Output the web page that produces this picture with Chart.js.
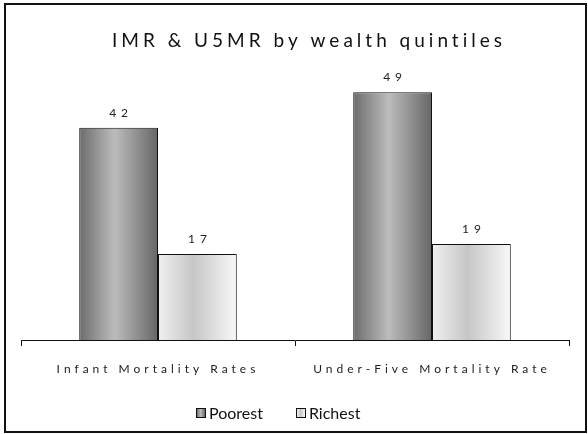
<!DOCTYPE html>
<html>
<head>
<meta charset="utf-8">
<script src="https://cdn.jsdelivr.net/npm/chart.js@4"></script>
<style>
    body { margin: 0; background: #fff; }
    #wrap { position: relative; width: 588px; height: 434px; }
    #frame {
        position: absolute; left: 4px; top: 3px; width: 583px; height: 430px;
        box-sizing: border-box; border: 2px solid #111; pointer-events: none;
    }
    #legend {
        position: absolute; left: 196px; top: 403px;
        font-family: Lato, sans-serif; font-size: 16px; color: #111;
        display: flex; align-items: center;
    }
    .item { display: flex; align-items: center; margin-right: 33px; }
    .box {
        width: 10px; height: 10px; box-sizing: border-box;
        border: 1.5px solid #111; margin-right: 3px;
    }
</style>
</head>
<body>
<div id="wrap">
    <canvas id="chart" width="588" height="434"></canvas>
    <div id="frame"></div>
    <div id="legend"></div>
</div>
<script>
// datos
const titulo = "IMR & U5MR by wealth quintiles";
const categorias = ["Infant Mortality Rates", "Under-Five Mortality Rate"];
const poorest = [42, 49];
const richest = [17, 19];
const series = ["Poorest", "Richest"];

// degradados de las barras (borde izq / centro / borde der)
const colores = [
    ["#6c6c6c", "#bcbcbc", "#666666"],
    ["#f0f0f0", "#c6c6c6", "#f8f8f8"]
];

const ANCHO_CAT = 0.575;

function degradado(ctx) {
    const chart = ctx.chart;
    const ds = ctx.datasetIndex;
    const xs = chart.scales.x;
    if (!chart.chartArea || !xs) return colores[ds][1];
    const centro = xs.getPixelForValue(ctx.dataIndex);
    const w = (xs.width / categorias.length) * ANCHO_CAT / 2;
    const x0 = ds === 0 ? centro - w : centro;
    const g = chart.ctx.createLinearGradient(x0, 0, x0 + w, 0);
    g.addColorStop(0, colores[ds][0]);
    g.addColorStop(0.45, colores[ds][1]);
    g.addColorStop(1, colores[ds][2]);
    return g;
}

// espaciado de letras para titulo, etiquetas y valores
const espaciado = {
    id: "espaciado",
    beforeDraw(chart) {
        chart.ctx.letterSpacing = "4px";
    },
    afterDatasetsDraw(chart) {
        const c = chart.ctx;
        c.save();
        c.letterSpacing = "5px";
        c.font = "12px Lato";
        c.fillStyle = "#222";
        c.textAlign = "center";
        c.textBaseline = "middle";
        chart.data.datasets.forEach((d, i) => {
            chart.getDatasetMeta(i).data.forEach((el, j) => {
                c.fillText(String(d.data[j]), el.x + 2.5, el.y - 15);
            });
        });
        c.restore();
    },
    afterDraw(chart) {
        const c = chart.ctx;
        // titulo (desplazado como en el original)
        c.save();
        c.letterSpacing = "4px";
        c.font = "19px Lato";
        c.fillStyle = "#111";
        c.textAlign = "left";
        c.textBaseline = "middle";
        c.fillText(titulo, 112, 40.5);
        c.restore();
        c.letterSpacing = "0px";
    }
};

const chart = new Chart(document.getElementById("chart"), {
    type: "bar",
    data: {
        labels: categorias,
        datasets: [
            { label: series[0], data: poorest, backgroundColor: degradado, borderColor: "#111", borderWidth: 1 },
            { label: series[1], data: richest, backgroundColor: degradado, borderColor: "#111", borderWidth: 1 }
        ]
    },
    options: {
        responsive: false,
        animation: false,
        layout: { padding: { left: 21, right: 19, top: 62, bottom: 0 } },
        datasets: {
            bar: {
                categoryPercentage: ANCHO_CAT,
                barPercentage: 1
            }
        },
        scales: {
            x: {
                grid: {
                    drawOnChartArea: false,
                    drawTicks: true,
                    tickLength: 6,
                    color: "#111"
                },
                border: { color: "#111", width: 1 },
                ticks: {
                    padding: 16,
                    color: "#222",
                    font: { family: "Lato", size: 12 }
                },
                afterFit: s => { s.height = 94; }
            },
            y: {
                display: false,
                min: 0,
                max: 55
            }
        },
        plugins: {
            legend: { display: false },
            tooltip: { enabled: false },
            title: { display: false }
        }
    },
    plugins: [espaciado]
});

// leyenda
const leyenda = document.getElementById("legend");
series.forEach((nombre, i) => {
    const item = document.createElement("div");
    item.className = "item";
    const box = document.createElement("span");
    box.className = "box";
    box.style.background = `linear-gradient(to right, ${colores[i][0]}, ${colores[i][1]} 45%, ${colores[i][2]})`;
    const txt = document.createElement("span");
    txt.textContent = nombre;
    item.appendChild(box);
    item.appendChild(txt);
    leyenda.appendChild(item);
});
</script>
</body>
</html>
